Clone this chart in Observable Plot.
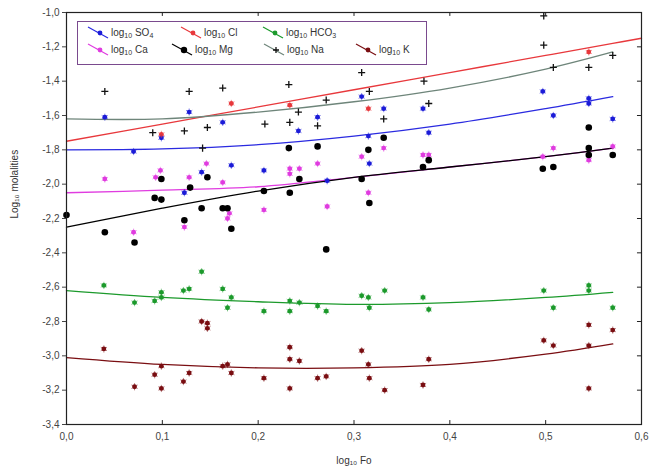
<!DOCTYPE html>
<html>
<head>
<meta charset="utf-8">
<script src="https://cdn.jsdelivr.net/npm/d3@7"></script>
<script src="https://cdn.jsdelivr.net/npm/@observablehq/plot@0.6"></script>
<style>
  body { margin: 0; background: #fff; }
  #wrap { position: relative; width: 649px; height: 475px; font-family: "Liberation Sans", Arial, sans-serif; }
  #legend { position: absolute; left: 77px; top: 21px; width: 348px; height: 42px; border: 1.5px solid #7a4a8e; background: #fff; }
  .item { position: absolute; display: flex; align-items: center; font-size: 10px; color: #333; white-space: nowrap; }
  .item svg { margin-right: 2px; }
  sub { font-size: 7px; vertical-align: -2px; }
</style>
</head>
<body>
<div id="wrap"></div>
<script>
// ---- data ----
const xTicks = [0, 0.1, 0.2, 0.3, 0.4, 0.5, 0.6];
const yTicks = [-1.0, -1.2, -1.4, -1.6, -1.8, -2.0, -2.2, -2.4, -2.6, -2.8, -3.0, -3.2, -3.4];

const seriesNames = ["SO4", "Cl", "HCO3", "Ca", "Mg", "Na", "K"];
const seriesColors = ["#1c1cd8", "#e8383c", "#1c9a2c", "#e03ce0", "#000000", "#202020", "#7a0e12"];
const lineColors   = ["#2a2ae0", "#e8383c", "#1c9a2c", "#e03ce0", "#000000", "#6e857a", "#7a0e12"];

const so4Points = [[0.040,-1.61],[0.128,-1.58],[0.099,-1.73],[0.070,-1.81],[0.163,-1.64],[0.172,-1.89],[0.206,-1.92],[0.242,-1.69],[0.262,-1.61],[0.141,-1.93],[0.123,-2.05],[0.272,-1.98],[0.308,-1.49],[0.331,-1.56],[0.372,-1.56],[0.315,-1.72],[0.316,-1.88],[0.378,-1.70],[0.497,-1.46],[0.545,-1.50],[0.545,-1.53],[0.508,-1.60],[0.570,-1.62]];
const clPoints  = [[0.099,-1.71],[0.172,-1.53],[0.233,-1.54],[0.315,-1.56],[0.545,-1.23]];
const hco3Points = [[0.039,-2.59],[0.071,-2.69],[0.092,-2.68],[0.099,-2.63],[0.099,-2.66],[0.122,-2.62],[0.128,-2.61],[0.141,-2.51],[0.163,-2.61],[0.168,-2.72],[0.172,-2.66],[0.206,-2.74],[0.233,-2.68],[0.233,-2.74],[0.243,-2.69],[0.262,-2.71],[0.271,-2.74],[0.308,-2.65],[0.315,-2.66],[0.316,-2.72],[0.332,-2.62],[0.372,-2.66],[0.378,-2.73],[0.498,-2.62],[0.508,-2.72],[0.545,-2.59],[0.545,-2.62],[0.570,-2.72]];
const caPoints = [[0.040,-1.97],[0.098,-1.92],[0.093,-1.96],[0.128,-1.96],[0.146,-1.88],[0.070,-2.28],[0.123,-2.25],[0.168,-2.20],[0.170,-2.17],[0.163,-1.99],[0.206,-2.15],[0.233,-1.91],[0.233,-1.94],[0.243,-1.91],[0.262,-1.88],[0.272,-2.13],[0.308,-1.84],[0.331,-1.79],[0.315,-2.05],[0.372,-1.83],[0.378,-1.83],[0.508,-1.79],[0.570,-1.78],[0.497,-1.84],[0.545,-1.86]];
const mgPoints = [[0.0,-2.18],[0.040,-2.28],[0.071,-2.34],[0.099,-1.97],[0.092,-2.08],[0.099,-2.09],[0.129,-2.02],[0.147,-1.96],[0.123,-2.21],[0.141,-2.14],[0.163,-2.14],[0.168,-2.14],[0.172,-2.26],[0.206,-2.04],[0.233,-2.05],[0.232,-1.79],[0.262,-1.78],[0.243,-1.97],[0.271,-2.38],[0.308,-1.97],[0.316,-2.11],[0.331,-1.73],[0.315,-1.80],[0.378,-1.86],[0.372,-1.90],[0.497,-1.91],[0.508,-1.90],[0.545,-1.67],[0.545,-1.79],[0.545,-1.83],[0.570,-1.83]];
const naPoints = [[0.040,-1.46],[0.128,-1.46],[0.090,-1.70],[0.123,-1.69],[0.142,-1.79],[0.163,-1.44],[0.232,-1.42],[0.271,-1.51],[0.242,-1.58],[0.207,-1.65],[0.233,-1.64],[0.262,-1.66],[0.147,-1.67],[0.308,-1.35],[0.316,-1.46],[0.373,-1.40],[0.378,-1.53],[0.331,-1.62],[0.498,-1.02],[0.498,-1.19],[0.508,-1.32],[0.545,-1.32],[0.570,-1.25]];
const kPoints = [[0.039,-2.96],[0.071,-3.18],[0.092,-3.11],[0.099,-3.06],[0.099,-3.19],[0.122,-3.15],[0.128,-3.10],[0.141,-2.80],[0.147,-2.81],[0.147,-2.84],[0.163,-3.06],[0.168,-3.05],[0.172,-3.10],[0.206,-3.13],[0.233,-2.95],[0.233,-3.02],[0.233,-3.19],[0.243,-3.03],[0.262,-3.13],[0.271,-3.12],[0.308,-2.97],[0.315,-3.05],[0.316,-3.13],[0.332,-3.20],[0.372,-3.17],[0.378,-3.02],[0.498,-2.91],[0.508,-2.94],[0.545,-2.82],[0.545,-2.94],[0.545,-3.19],[0.570,-2.85]];

// fitted curves
const fitFo   = [0, 0.1, 0.2, 0.3, 0.4, 0.5, 0.57, 0.6];
const so4Fit  = [-1.80, -1.795, -1.77, -1.72, -1.65, -1.56, -1.49, null];
const clFit   = [-1.75, -1.65, -1.55, -1.45, -1.35, -1.25, -1.18, -1.15];
const hco3Fit = [-2.62, -2.66, -2.685, -2.70, -2.69, -2.66, -2.63, null];
const caFit   = [-2.05, -2.035, -2.015, -1.96, -1.90, -1.84, -1.79, null];
const mgFit   = [-2.25, -2.14, -2.04, -1.96, -1.90, -1.84, -1.79, null];
const naFit   = [-1.62, -1.62, -1.58, -1.52, -1.44, -1.33, -1.23, null];
const kFit    = [-3.01, -3.05, -3.07, -3.07, -3.05, -2.99, -2.93, null];

const allPoints = [so4Points, clPoints, hco3Points, caPoints, mgPoints, naPoints, kPoints];
const allFits = [so4Fit, clFit, hco3Fit, caFit, mgFit, naFit, kFit];

// ---- build tables ----
const pts = [];
allPoints.forEach((arr, i) => arr.forEach(([x, y]) => pts.push({s: seriesNames[i], x, y})));
const fits = [];
allFits.forEach((arr, i) => arr.forEach((y, j) => { if (y !== null) fits.push({s: seriesNames[i], x: fitFo[j], y}); }));

const fmt = d => d.toFixed(1).replace(".", ",");
const colorOf = s => seriesColors[seriesNames.indexOf(s)];
const lineColorOf = s => lineColors[seriesNames.indexOf(s)];
const star = pts.filter(d => d.s !== "Mg" && d.s !== "Na");

const chart = Plot.plot({
  width: 649, height: 475,
  marginLeft: 66, marginRight: 8, marginTop: 12, marginBottom: 51,
  style: {fontFamily: "'Liberation Sans', Arial, sans-serif", fontSize: "10px", color: "#444", background: "#fff"},
  x: {domain: [0, 0.6], label: null},
  y: {domain: [-3.4, -1.0], label: null},
  marks: [
    Plot.line(fits, {x: "x", y: "y", z: "s", stroke: d => lineColorOf(d.s), strokeWidth: 1.3, curve: "catmull-rom"}),
    Plot.dot(star, {x: "x", y: "y", r: 2.4, fill: d => colorOf(d.s), stroke: "none"}),
    Plot.dot(star, {x: "x", y: "y", r: 3.4, symbol: "asterisk", stroke: d => colorOf(d.s), strokeWidth: 1, strokeOpacity: 0.5}),
    Plot.dot(pts.filter(d => d.s === "Mg"), {x: "x", y: "y", r: 3.3, fill: "#000", stroke: "none"}),
    Plot.dot(pts.filter(d => d.s === "Na"), {x: "x", y: "y", r: 2.4, symbol: "plus", stroke: "#111", strokeWidth: 1.3}),
    Plot.frame({stroke: "#222", strokeWidth: 1.2}),
    Plot.axisY({anchor: "left", ticks: yTicks, tickSize: 4, tickPadding: 3, tickFormat: fmt, label: null}),
    Plot.axisX({anchor: "bottom", ticks: xTicks, tickSize: 0, tickPadding: 8, tickFormat: fmt, label: null}),
    // inner ticks on the other sides
    Plot.ruleY(yTicks, {y: d => d, x1: 0.6, x2: 0.6 - 0.0042, stroke: "#222"}),
    Plot.ruleX(xTicks, {x: d => d, y1: -3.4, y2: -3.4 + 0.023, stroke: "#222"}),
    Plot.ruleX(xTicks, {x: d => d, y1: -1.0, y2: -1.0 - 0.023, stroke: "#222"}),
    Plot.text(["log\u2081\u2080 Fo"], {frameAnchor: "bottom", dy: 39, fontSize: 10, fill: "#333"}),
    Plot.text(["Log\u2081\u2080 molalities"], {frameAnchor: "left", rotate: -90, dx: -52, fontSize: 10, fill: "#333"})
  ]
});

const wrap = document.getElementById("wrap");
wrap.appendChild(chart);

// ---- legend overlay ----
const legendItems = [
  {s: "SO4", html: "log<sub>10</sub> SO<sub>4</sub>", left: 9, top: 3},
  {s: "Cl", html: "log<sub>10</sub> Cl", left: 102, top: 3},
  {s: "HCO3", html: "log<sub>10</sub> HCO<sub>3</sub>", left: 184, top: 3},
  {s: "Ca", html: "log<sub>10</sub> Ca", left: 9, top: 20},
  {s: "Mg", html: "log<sub>10</sub> Mg", left: 93, top: 20},
  {s: "Na", html: "log<sub>10</sub> Na", left: 185, top: 20},
  {s: "K", html: "log<sub>10</sub> K", left: 277, top: 20}
];
const legend = document.createElement("div");
legend.id = "legend";
legendItems.forEach(it => {
  const c = colorOf(it.s), lc = lineColorOf(it.s);
  let marker;
  if (it.s === "Mg") marker = `<circle cx="13" cy="8" r="3.2" fill="#000"/>`;
  else if (it.s === "Na") marker = `<path d="M13,5v6M10,8h6" stroke="#111" stroke-width="1.3"/>`;
  else marker = `<circle cx="13" cy="8" r="2.4" fill="${c}"/>`;
  const el = document.createElement("div");
  el.className = "item";
  el.style.left = it.left + "px";
  el.style.top = it.top + "px";
  el.innerHTML = `<svg width="22" height="15"><line x1="1" y1="2" x2="21" y2="13" stroke="${lc}" stroke-width="1.2"/>${marker}</svg><span>${it.html}</span>`;
  legend.appendChild(el);
});
wrap.appendChild(legend);
</script>
</body>
</html>
